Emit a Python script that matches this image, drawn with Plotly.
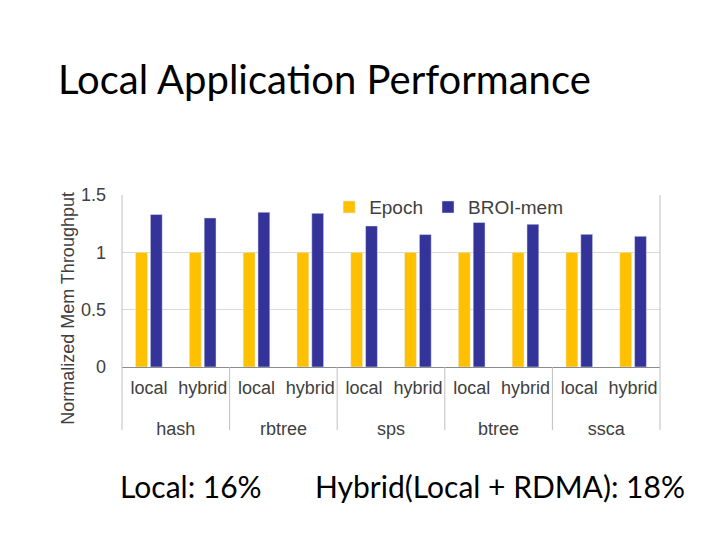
import plotly.graph_objects as go

groups = ['hash', 'hash', 'rbtree', 'rbtree', 'sps', 'sps', 'btree', 'btree', 'ssca', 'ssca']
modes = ['local', 'hybrid'] * 5
epoch = [1, 1, 1, 1, 1, 1, 1, 1, 1, 1]
broi_mem = [1.33, 1.30, 1.35, 1.34, 1.23, 1.155, 1.26, 1.245, 1.157, 1.14]

yticks = [0, 0.5, 1, 1.5]
ytick_text = ['0', '0.5', '1', '1.5']

axis_font = dict(family='Liberation Sans, Arial', size=18, color='#404040')

# trailing blank line on the inner labels pushes the group row further down
inner_labels = [m + '<br> ' for m in modes]

fig = go.Figure()
fig.add_trace(go.Bar(x=[groups, inner_labels], y=epoch, name='Epoch', marker_color='#FFC000'))
fig.add_trace(go.Bar(x=[groups, inner_labels], y=broi_mem, name='BROI-mem', marker_color='#333399'))

# the page body adds an 8px offset, so everything is laid out 8px up/left
fig.update_layout(
    width=720, height=540,
    paper_bgcolor='white', plot_bgcolor='white',
    margin=dict(l=114, r=68, t=187, b=181),
    barmode='group', bargap=0.45, bargroupgap=0.2,
    title=dict(text='Local Application Performance', x=50 / 720, xanchor='left',
               y=1 - 72 / 540, yanchor='middle', yref='container',
               font=dict(family='Lato', size=40, color='black')),
    legend=dict(orientation='h', x=0.385, xanchor='left', y=1.04, yanchor='top',
                font=dict(family='Liberation Sans, Arial', size=19, color='#404040'),
                bgcolor='rgba(0,0,0,0)', itemwidth=30),
    showlegend=True,
)

fig.update_yaxes(range=[0, 1.5], tickvals=yticks, ticktext=ytick_text,
                 showgrid=True, gridcolor='#D9D9D9', gridwidth=1,
                 zeroline=False, showline=False, tickfont=axis_font,
                 ticklabelstandoff=15)
fig.update_xaxes(type='multicategory', showline=True, linecolor='#8C8C8C', linewidth=1,
                 showdividers=False, tickfont=axis_font, ticks='', tickangle=0,
                 ticklabelstandoff=4)

# frame lines on left and right, group dividers below the axis
for xp in (0, 1):
    fig.add_shape(type='line', xref='paper', yref='paper', x0=xp, x1=xp, y0=-0.366, y1=1,
                  line=dict(color='#BFBFBF', width=1))
for xp in (0.2, 0.4, 0.6, 0.8):
    fig.add_shape(type='line', xref='paper', yref='paper', x0=xp, x1=xp, y0=-0.366, y1=0,
                  line=dict(color='#BFBFBF', width=1))

fig.add_annotation(text='Normalized Mem Throughput', textangle=-90, showarrow=False,
                   xref='paper', yref='paper', x=-0.123, y=0.343,
                   font=dict(family='Liberation Sans, Arial', size=18, color='#404040'))

fig.add_annotation(text='Local: 16%', showarrow=False, xref='paper', yref='paper',
                   x=-0.008, y=-0.69, xanchor='left', yanchor='middle',
                   font=dict(family='Lato', size=30, color='black'))
fig.add_annotation(text='Hybrid(Local + RDMA): 18%', showarrow=False, xref='paper', yref='paper',
                   x=0.355, y=-0.69, xanchor='left', yanchor='middle',
                   font=dict(family='Lato', size=30, color='black'))

fig.write_html("out.html")
